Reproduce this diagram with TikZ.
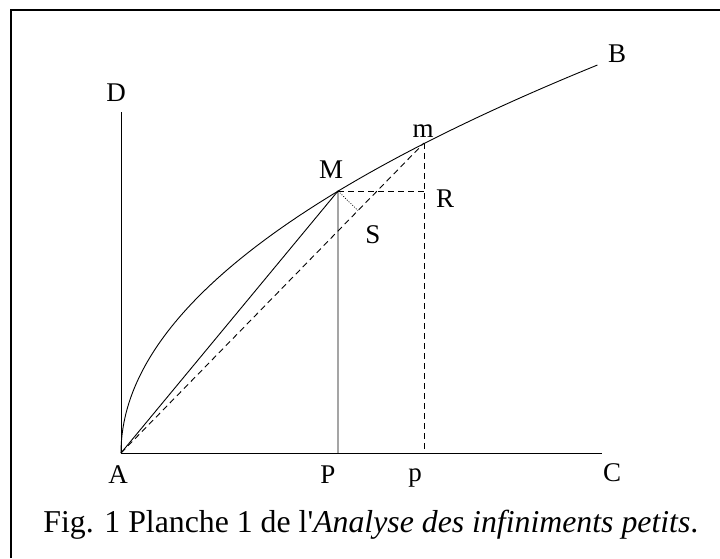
\documentclass[tikz,border=0pt]{standalone}
\usepackage{fontspec}
\setmainfont{Liberation Serif}
\usetikzlibrary{calc}

\begin{document}
\begin{tikzpicture}[x=1pt,y=-1pt,line width=0.9pt,
    lbl/.style={font=\fontsize{27}{32}\selectfont,inner sep=0pt},
    dsh/.style={dash pattern=on 6pt off 4pt},
    dtt/.style={line width=0.7pt,dash pattern=on 1pt off 1.5pt}]
  \useasboundingbox (0,0) rectangle (720,558);
  \draw[line width=1.6pt] (11,558) -- (11,10) -- (720,10);
  % points of the figure
  \coordinate (A) at (121,453);
  \coordinate (D) at (121,112);
  \coordinate (C) at (602,453);
  \coordinate (M) at (338,191);
  \coordinate (m) at (424,143);
  \coordinate (P) at (M |- A);
  \coordinate (p) at (m |- A);
  \coordinate (R) at (m |- M);
  \coordinate (S) at ($(A)!(M)!(m)$);
  % axes
  \draw (D) -- (A) -- (C);
  % the curve AB
  \draw[domain=0:3.88,samples=90,variable=\t] plot ({121+31.65*\t*\t},{453-100*\t}) coordinate (B);
  \draw (A) -- (M) -- (P);
  \draw[dsh] (A) -- (m);
  \draw[dsh] (m) -- (p);
  \draw[dsh] (M) -- (R);
  \draw[dtt] (M) -- (S);
  % letters
  \node[lbl] (lblD) at (116,93) {D};
  \node[lbl] (lblB) at (617,54) {B};
  \node[lbl] (lblm) at (423,131) {m};
  \node[lbl] (lblM) at (331,170) {M};
  \node[lbl] (lblR) at (445,199) {R};
  \node[lbl] (lblS) at (373,235) {S};
  \node[lbl] (lblA) at (118,475) {A};
  \node[lbl] (lblP) at (328,475) {P};
  \node[lbl] (lblp) at (415,478) {p};
  \node[lbl] (lblC) at (612,473) {C};
  \node[anchor=base west,inner sep=0pt,font=\fontsize{31.8}{38}\selectfont] (caption) at (43,532)
    {Fig. 1 Planche 1 de l\textquotesingle\textit{Analyse des infiniments petits}.};
\end{tikzpicture}
\end{document}
